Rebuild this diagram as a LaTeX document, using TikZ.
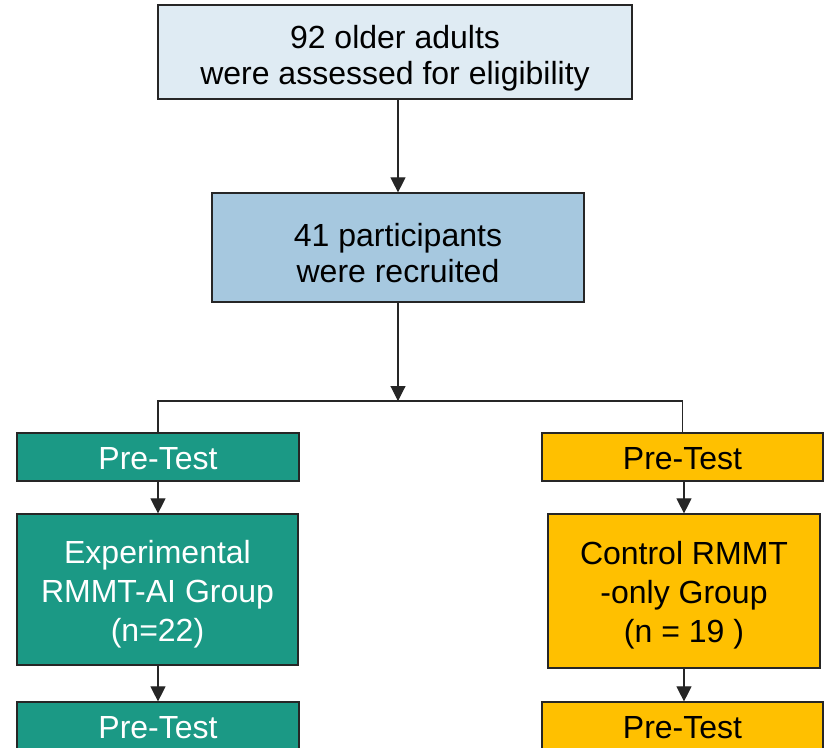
\documentclass[tikz,border=0pt]{standalone}
\usepackage{fontspec}
\setmainfont{Liberation Sans}
\usetikzlibrary{arrows.meta}
\definecolor{paleblue}{HTML}{DFEBF3}
\definecolor{midblue}{HTML}{A6C8DF}
\definecolor{expteal}{HTML}{1B9985}
\definecolor{ctrlgold}{HTML}{FFC000}
\newcommand{\toppad}[1]{\rule{0pt}{#1}}

\begin{document}
\begin{tikzpicture}[x=1pt, y=-1pt, >={Triangle[width=15pt,length=15pt]},
    box/.style={draw=black!85, line width=1.2pt, align=center, inner sep=0pt, font=\fontsize{32}{36}\selectfont},
    groupbox/.style={box, font=\fontsize{32}{39}\selectfont},
    flow/.style={line width=1.1pt, black!85}]
    \useasboundingbox (0,0) rectangle (827,747);
    \clip (0,0) rectangle (827,747);
    \node[box, fill=paleblue, minimum width=474pt, minimum height=94pt] (assessed) at (395,52) {\toppad{35pt}92 older adults\\were assessed for eligibility};
    \node[box, fill=midblue, minimum width=372pt, minimum height=109pt] (recruited) at (398,247.5) {\toppad{35pt}41 participants\\were recruited};
    \coordinate (split) at (398,401);
    \node[box, fill=expteal, text=white, minimum width=282pt, minimum height=48pt] (preexp) at (158,457) {\toppad{26pt}Pre-Test};
    \node[groupbox, fill=expteal, text=white, minimum width=281pt, minimum height=151pt] (expgroup) at (157.5,589.5) {\toppad{32pt}Experimental\\RMMT-AI Group\\(n=22)};
    \node[box, fill=expteal, text=white, minimum width=282pt, minimum height=48pt] (postexp) at (158,726) {\toppad{26pt}Pre-Test};
    \node[box, fill=ctrlgold, minimum width=281pt, minimum height=48pt] (prectrl) at (682.5,457) {\toppad{26pt}Pre-Test};
    \node[groupbox, fill=ctrlgold, minimum width=272pt, minimum height=154pt] (ctrlgroup) at (684,591) {\toppad{32pt}Control RMMT\\-only Group\\(n = 19 )};
    \node[box, fill=ctrlgold, minimum width=281pt, minimum height=48pt] (postctrl) at (682.5,726) {\toppad{26pt}Pre-Test};
    % connectors
    \draw[flow, ->] (recruited.north |- assessed.south) -- (recruited.north);
    \draw[flow, ->] (recruited.south) -- (split);
    \draw[flow] (preexp.north) -- (preexp.north |- split) -- (prectrl.north |- split) -- (prectrl.north);
    \draw[flow, ->] (preexp.south) -- (preexp.south |- expgroup.north);
    \draw[flow, ->] (postexp.north |- expgroup.south) -- (postexp.north);
    \draw[flow, ->] (ctrlgroup.north |- prectrl.south) -- (ctrlgroup.north);
    \draw[flow, ->] (ctrlgroup.south) -- (ctrlgroup.south |- postctrl.north);
\end{tikzpicture}
\end{document}
